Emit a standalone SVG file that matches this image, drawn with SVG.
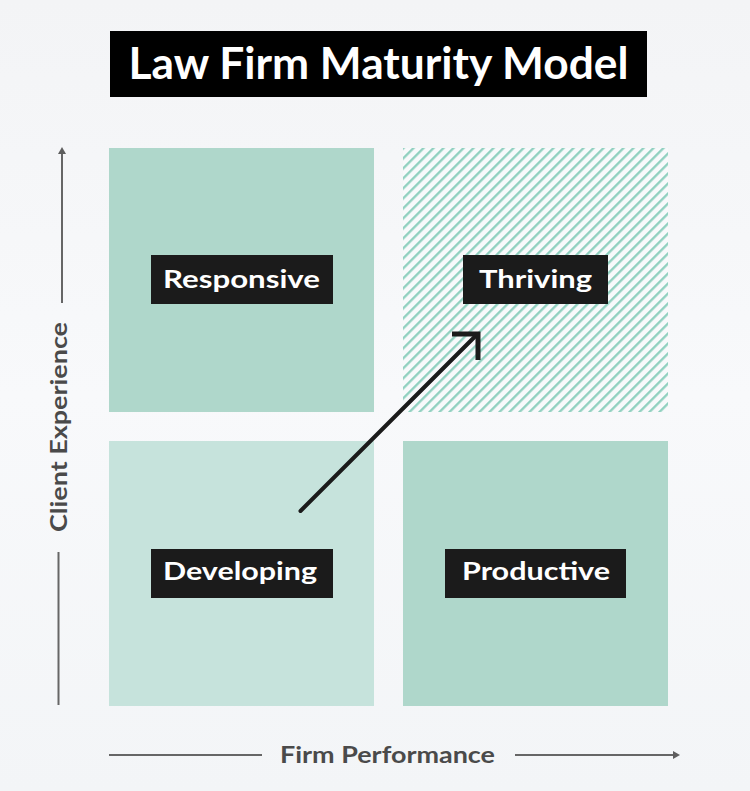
<svg xmlns="http://www.w3.org/2000/svg" width="750" height="791" viewBox="0 0 750 791">
  <defs>
    <linearGradient id="bg" x1="0" y1="0" x2="0" y2="1">
      <stop offset="0" stop-color="#f3f4f6"/>
      <stop offset="0.5" stop-color="#f8f9fb"/>
      <stop offset="1" stop-color="#f3f5f7"/>
    </linearGradient>
    <pattern id="hatch" patternUnits="userSpaceOnUse" width="7.07" height="10" patternTransform="rotate(45)">
      <rect x="0" y="0" width="7.07" height="10" fill="#f8f9fb"/>
      <rect x="0" y="0" width="2.3" height="10" fill="#8fd0bf"/>
    </pattern>
    <marker id="axisHead" viewBox="0 0 8 8" refX="4" refY="0" markerWidth="8" markerHeight="8" markerUnits="userSpaceOnUse" orient="auto-start-reverse">
      <path d="M0,0 L8,4 L0,8 Z" fill="#5e5e5e"/>
    </marker>
  </defs>
  <style>
    .lbl { fill: #1b1b1b; }
    .lbltxt { font-family: Lato, "Liberation Sans", sans-serif; font-weight: 700; font-size: 24px; fill: #ffffff; text-anchor: middle; }
    .axis { stroke: #666666; stroke-width: 2; fill: none; }
    .axistxt { font-family: Lato, "Liberation Sans", sans-serif; font-weight: 700; font-size: 23px; fill: #4a4a4a; text-anchor: middle; }
    .q1 { fill: #afd7cb; }
    .q2 { fill: #c6e3dc; }
  </style>
  <rect x="0" y="0" width="750" height="791" fill="url(#bg)"/>

  <g id="title">
    <rect x="110" y="31" width="537" height="66" fill="#000000"/>
    <text x="378.5" y="79" font-family="Lato, 'Liberation Sans', sans-serif" font-weight="700" font-size="44" fill="#ffffff" text-anchor="middle" textLength="500" lengthAdjust="spacingAndGlyphs">Law Firm Maturity Model</text>
  </g>

  <g id="responsive">
    <rect class="q1" x="109" y="148" width="265" height="264"/>
    <rect class="lbl" x="151" y="255" width="182" height="49"/>
    <text class="lbltxt" x="241.5" y="287.5" textLength="157" lengthAdjust="spacingAndGlyphs">Responsive</text>
  </g>

  <g id="thriving">
    <rect x="403" y="148" width="265" height="264" fill="url(#hatch)"/>
    <rect class="lbl" x="463" y="255" width="145" height="49"/>
    <text class="lbltxt" x="535.5" y="287.5" textLength="113" lengthAdjust="spacingAndGlyphs">Thriving</text>
  </g>

  <g id="developing">
    <rect class="q2" x="109" y="441" width="265" height="265"/>
    <rect class="lbl" x="151" y="549" width="182" height="49"/>
    <text class="lbltxt" x="240" y="580" textLength="154" lengthAdjust="spacingAndGlyphs">Developing</text>
  </g>

  <g id="productive">
    <rect class="q1" x="403" y="441" width="265" height="265"/>
    <rect class="lbl" x="445" y="549" width="181" height="49"/>
    <text class="lbltxt" x="536" y="580" textLength="148" lengthAdjust="spacingAndGlyphs">Productive</text>
  </g>

  <g id="connectors">
    <line x1="300.5" y1="511" x2="476" y2="335.5" stroke="#1b1b1b" stroke-width="4" stroke-linecap="round"/>
    <polyline points="452,334 478,334 478,360" fill="none" stroke="#1b1b1b" stroke-width="5" stroke-linejoin="miter"/>
  </g>

  <g id="y-axis">
    <line class="axis" x1="62" y1="303" x2="62" y2="154"/>
    <path d="M62,147 L66,154 L58,154 Z" fill="#5e5e5e"/>
    <line class="axis" x1="58.5" y1="552" x2="58.5" y2="705"/>
    <text class="axistxt" transform="translate(67,427) rotate(-90)" textLength="210" lengthAdjust="spacingAndGlyphs">Client Experience</text>
  </g>

  <g id="x-axis">
    <line class="axis" x1="109" y1="755" x2="262" y2="755"/>
    <line class="axis" x1="515" y1="755" x2="673" y2="755"/>
    <path d="M680,755 L673,751 L673,759 Z" fill="#5e5e5e"/>
    <text class="axistxt" x="387.5" y="763" textLength="215" lengthAdjust="spacingAndGlyphs">Firm Performance</text>
  </g>
</svg>
